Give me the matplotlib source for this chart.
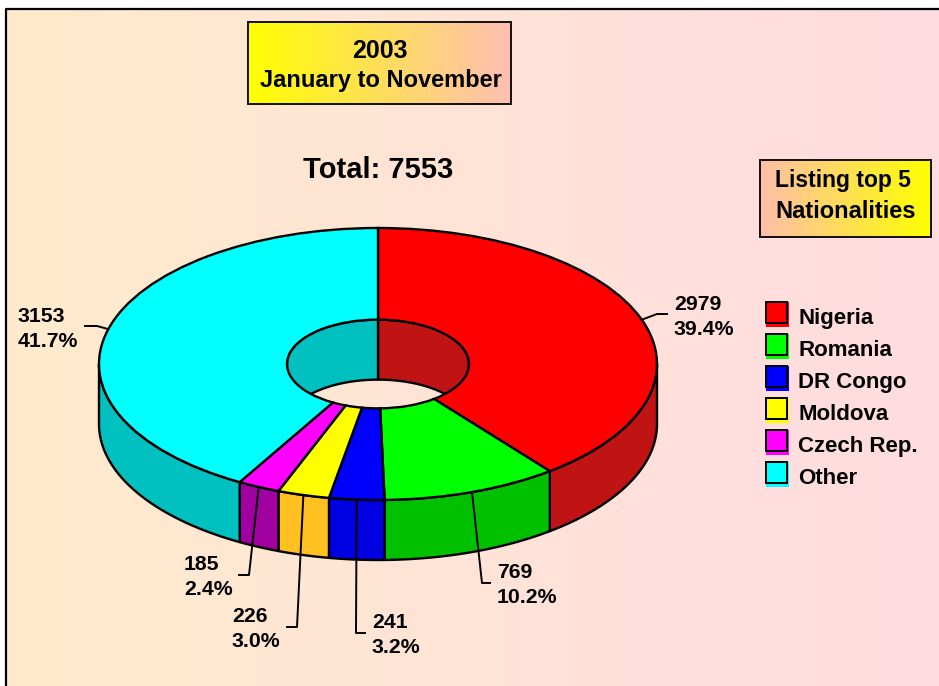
import matplotlib
matplotlib.use("Agg")
import matplotlib.pyplot as plt
from matplotlib.patches import Rectangle
import numpy as np

# chart data
nationalities = ["Nigeria", "Romania", "DR Congo", "Moldova", "Czech Rep.", "Other"]
counts = [2979, 769, 241, 226, 185, 3153]
percents = ["39.4%", "10.2%", "3.2%", "3.0%", "2.4%", "41.7%"]
total_label = "Total: 7553"
title_lines = ["2003", "January to November"]
note_lines = ["Listing top 5", "Nationalities"]

top_colors = ["#FF0000", "#00FF00", "#0000FF", "#FFFF00", "#FF00FF", "#00FFFF"]
side_colors = ["#C01414", "#00C000", "#0000E0", "#FFC020", "#A000A0", "#00C0C0"]

# layout, in pixels of the 939x686 picture
W, H = 939, 686
cx, cy, rx, ry = 378, 364, 279, 136
hole_rx = 91
depth = 60 / ry  # wall height in pie units
# label text x, y of first line, then leader elbow and end
label_pos = [(674, 305), (497, 573), (372, 623), (232, 617), (184, 565), (18, 317)]
leader_pts = [[(657, 314), (667, 314)], [(482, 583), (490, 583)], [(356, 633), (365, 633)],
              [(297, 627), (287, 627)], [(249, 575), (239, 575)], [(97, 326), (85, 326)]]

plt.rcParams["font.family"] = ["Liberation Sans", "DejaVu Sans"]
plt.rcParams["font.weight"] = "bold"

fig = plt.figure(figsize=(W / 100, H / 100), dpi=100, facecolor="white")
ax = fig.add_axes([0, 0, 1, 1])
ax.set_xlim(0, W)
ax.set_ylim(H, 0)
ax.axis("off")


def gradient(x0, x1, y0, y1, left, right, zorder=1):
    colors = np.linspace(left, right, 256).reshape(1, 256, 3) / 255
    ax.imshow(colors, extent=[x0, x1, y1, y0], aspect="auto", zorder=zorder)


# background and frame
gradient(6, W, 8.5, H, (255, 235, 205), (255, 220, 225))
ax.plot([6, 6, W], [H, 8.5, 8.5], color="black", lw=1.6, zorder=2)
ax.set_xlim(0, W)
ax.set_ylim(H, 0)

# title boxes
gradient(248, 511, 22, 104, (255, 255, 0), (255, 190, 180), zorder=3)
ax.add_patch(Rectangle((248, 22), 263, 82, fill=False, ec="#101010", lw=1.4, zorder=4))
ax.text(380, 51, title_lines[0], fontsize=18, ha="center", va="center", zorder=5)
ax.text(381, 81, title_lines[1], fontsize=17, ha="center", va="center", zorder=5)

gradient(760, 931, 160, 237, (255, 190, 170), (255, 255, 0), zorder=3)
ax.add_patch(Rectangle((760, 160), 171, 77, fill=False, ec="#101010", lw=1.4, zorder=4))
ax.text(775, 181, note_lines[0], fontsize=16.5, ha="left", va="center", zorder=5)
ax.text(775, 212, note_lines[1], fontsize=17, ha="left", va="center", zorder=5)

ax.text(378, 170, total_label, fontsize=21, ha="center", va="center", zorder=5)

# pie axes, stretched so the circle becomes the tilted ellipse
xm, y_top, y_bot = 1.1, 1.1, 1.6
pie_ax = fig.add_axes([(cx - xm * rx) / W, 1 - (cy + y_bot * ry) / H,
                       2 * xm * rx / W, (y_top + y_bot) * ry / H])
pie_ax.patch.set_visible(False)

shares = np.array(counts) / sum(counts) * 360
ends = np.cumsum(shares)
starts = ends - shares
lw = 1.7

# inner wall seen through the hole, back half only
hole_r = hole_rx / rx
for i, (a, b) in enumerate(zip(starts, ends)):
    for lo, hi in [(max(a, 0), min(b, 90)), (max(a, 270), min(b, 360))]:
        if hi > lo:
            t = np.radians(np.linspace(lo, hi, 60))
            xs = hole_r * np.sin(t)
            ys = hole_r * np.cos(t)
            pie_ax.fill(np.r_[xs, xs[::-1]], np.r_[ys, ys[::-1] - depth],
                        facecolor=side_colors[i], edgecolor="black", lw=lw, joinstyle="round")

# outer wall, front half only
for i, (a, b) in enumerate(zip(starts, ends)):
    lo, hi = max(a, 90), min(b, 270)
    if hi > lo:
        t = np.radians(np.linspace(lo, hi, 120))
        xs = np.sin(t)
        ys = np.cos(t)
        pie_ax.fill(np.r_[xs, xs[::-1]], np.r_[ys, ys[::-1] - depth],
                    facecolor=side_colors[i], edgecolor="black", lw=lw, joinstyle="round")

# top face
pie_ax.pie(counts, colors=top_colors, startangle=90, counterclock=False, radius=1,
           wedgeprops=dict(width=1 - hole_r, edgecolor="black", linewidth=lw))
pie_ax.set_aspect("auto")
pie_ax.set_xlim(-xm, xm)
pie_ax.set_ylim(-y_bot, y_top)
pie_ax.axis("off")

# leaders and value labels
top_ax = fig.add_axes([0, 0, 1, 1])
top_ax.set_xlim(0, W)
top_ax.set_ylim(H, 0)
top_ax.axis("off")
mids = np.radians((starts + ends) / 2)
for i, m in enumerate(mids):
    ax_x = cx + rx * np.sin(m)
    ax_y = cy - ry * np.cos(m)
    (ex, ey), (fx, fy) = leader_pts[i]
    top_ax.plot([ax_x, ex, fx], [ax_y, ey, fy], color="black", lw=1.4)
    tx, ty = label_pos[i]
    top_ax.text(tx, ty, str(counts[i]), fontsize=15.3, ha="left", va="center")
    top_ax.text(tx, ty + 24.5, percents[i], fontsize=15.3, ha="left", va="center")

# legend
for i, name in enumerate(nationalities):
    y = 302 + 32 * i
    top_ax.add_patch(Rectangle((766, y), 23, 25, fc=top_colors[i], ec="none"))
    top_ax.add_patch(Rectangle((766, y), 21, 21, fc=top_colors[i], ec="black", lw=1.4))
    top_ax.text(798, y + 16.5, name, fontsize=16, ha="left", va="center")

fig.savefig("out.png", dpi=100)
